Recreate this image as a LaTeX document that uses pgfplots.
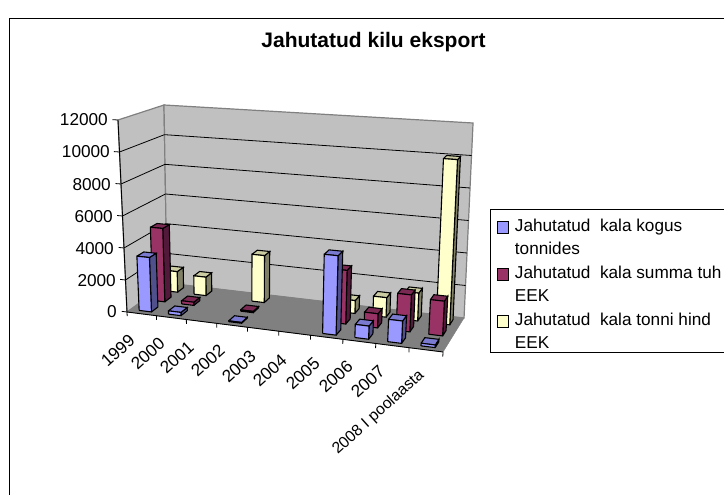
\documentclass[border=0pt]{standalone}
\usepackage{fontspec}
\setmainfont{Liberation Sans}
\usepackage{pgfplots}
\usepackage{pgfplotstable}
\pgfplotsset{compat=1.18}

% values: category, then the three series
\pgfplotstableread{
cat kogus summa hind
0 3400 4700 1350
1 200 200 1200
2 0 0 0
3 50 80 3000
4 0 0 0
5 0 0 0
6 4700 3250 800
7 770 850 1200
8 1300 2200 1700
9 150 2050 10000
}\kiludata

\definecolor{sblue}{HTML}{9999FF}
\definecolor{sblues}{HTML}{50508C}
\definecolor{sbluet}{HTML}{7A7AD0}
\definecolor{spurp}{HTML}{993366}
\definecolor{spurps}{HTML}{52193A}
\definecolor{spurpt}{HTML}{7A2952}
\definecolor{syell}{HTML}{FFFFCC}
\definecolor{syells}{HTML}{808066}
\definecolor{syellt}{HTML}{CCCCA3}
\definecolor{wall}{HTML}{C0C0C0}
\definecolor{floorc}{HTML}{808080}

% u,v,w in 0..1 to picture pixels (Excel's perspective)
\pgfplotsset{
  table/proj/.style={
    row sep=\\,
    x expr={PX(\thisrow{u},\thisrow{v},\thisrow{w})},
    y expr={PY(\thisrow{u},\thisrow{v},\thisrow{w})},
  },
}

\def\pt#1#2#3{#1 #2 #3\noexpand\\}
\newcommand\onebar[6]{%
  \pgfmathsetmacro\ul{(#1+0.29)/10}%
  \pgfmathsetmacro\ur{(#1+0.71)/10}%
  \pgfmathsetmacro\vf{#2-0.08}%
  \pgfmathsetmacro\vb{#2+0.08}%
  \pgfmathsetmacro\wt{#3/12000}%
  \edef\tmp{\noexpand\addplot[fill=#5,draw=black,line width=1.1pt,forget plot] table[proj]{u v w\noexpand\\
    \pt\ur\vf{0}\pt\ur\vb{0}\pt\ur\vb\wt\pt\ur\vf\wt\pt\ur\vf{0}};
    \noexpand\addplot[fill=#6,draw=black,line width=1.1pt,forget plot] table[proj]{u v w\noexpand\\
    \pt\ul\vf\wt\pt\ur\vf\wt\pt\ur\vb\wt\pt\ul\vb\wt\pt\ul\vf\wt};
    \noexpand\addplot[fill=#4,draw=black,line width=1.1pt,forget plot] table[proj]{u v w\noexpand\\
    \pt\ul\vf{0}\pt\ur\vf{0}\pt\ur\vf\wt\pt\ul\vf\wt\pt\ul\vf{0}};}\tmp
}
\newcommand\series[5]{% column, v centre, colours
  \pgfplotsinvokeforeach{0,...,9}{%
    \pgfplotstablegetelem{##1}{#1}\of\kiludata
    \let\val\pgfplotsretval
    \ifdim\val pt>0pt \onebar{##1}{#2}{\val}{#3}{#4}{#5}\fi
  }%
}
\newcommand\yl[3]{\node[anchor=east,inner sep=0pt] at (axis cs:#1,#2) {#3};}
\newcommand\xl[3]{\node[anchor=north east,rotate=42,inner sep=0pt] at (axis cs:#1,#2) {#3};}
% one legend line: strut height, strut depth, text
\newcommand\lrow[3]{\hspace*{4pt}\rule[-#2]{0pt}{\dimexpr#1+#2\relax}#3}

\begin{document}
\begin{tikzpicture}[
  declare function={
    D(\a,\b)=1-0.0757*\a+0.0693*\b;
    PX(\a,\b,\c)=(127+282.5*\a+51.57*\b)/D(\a,\b)
      +\c*(-9*(1-\a)*(1-\b)-3*(1-\a)*\b+12*\a*(1-\b)+9*\a*\b);
    PY(\a,\b,\c)=(312+13.35*\a-9.39*\b)/D(\a,\b)
      -\c*(192*(1-\a)*(1-\b)+178*(1-\a)*\b+210*\a*(1-\b)+195*\a*\b);
  }]
\useasboundingbox (0,0) rectangle (724pt,495pt);
\clip (0,0) rectangle (724pt,495pt);
\begin{axis}[
  at={(0,0)}, anchor=south west,
  scale only axis, width=724pt, height=495pt,
  xmin=0, xmax=724, ymin=0, ymax=495, y dir=reverse,
  axis lines=none, clip=false,
  font=\fontsize{17.2}{21}\selectfont,
  legend style={at={(axis cs:490,209)}, anchor=north west, draw=black, line width=0.9pt,
    fill=white, inner xsep=6pt, inner ysep=0pt, row sep=4pt, font=\fontsize{17.2}{22}\selectfont,
    cells={anchor=base west,inner ysep=0pt,inner xsep=0pt}},
  legend image code/.code={\draw[#1,line width=1pt] (1pt,-2pt) rectangle (12pt,9.5pt);},
]
% frame
\draw[black,line width=0.9pt] (axis cs:9.5,520) -- (axis cs:9.5,18.5) -- (axis cs:740,18.5);

% walls and floor
\addplot[fill=wall,draw=floorc,line width=1.2pt,forget plot] table[proj]{u v w\\ 0 0 0\\ 0 1 0\\ 0 1 1\\ 0 0 1\\ 0 0 0\\};
\addplot[fill=wall,draw=floorc,line width=1.2pt,forget plot] table[proj]{u v w\\ 0 1 0\\ 1 1 0\\ 1 1 1\\ 0 1 1\\ 0 1 0\\};
\addplot[fill=floorc,draw=floorc,forget plot] table[proj]{u v w\\ 0 0 0\\ 1 0 0\\ 1 1 0\\ 0 1 0\\ 0 0 0\\};

% gridlines
\pgfplotsinvokeforeach{1,...,5}{
  \pgfmathsetmacro\gw{#1/6}
  \edef\tmp{\noexpand\addplot[black,line width=0.8pt,forget plot] table[proj]{u v w\noexpand\\
    \pt{0}{0}\gw\pt{0}{1}\gw\pt{1}{1}\gw};}\tmp
}

% value axis and category axis
\addplot[black,line width=0.9pt,forget plot] table[proj]{u v w\\ 0 0 0\\ 0 0 1\\};
\addplot[black,line width=0.9pt,forget plot] table[proj]{u v w\\ 0 0 0\\ 1 0 0\\};
\pgfplotsinvokeforeach{0,...,6}{
  \pgfmathsetmacro\gw{#1/6}
  \edef\tmp{\noexpand\addplot[black,line width=0.8pt,forget plot] table[proj]{u v w\noexpand\\
    \pt{-0.018}{0}\gw\pt{0}{0}\gw};}\tmp
}
\pgfplotsinvokeforeach{0,...,10}{
  \pgfmathsetmacro\gu{#1/10}
  \edef\tmp{\noexpand\addplot[black,line width=0.8pt,forget plot] table[proj]{u v w\noexpand\\
    \pt\gu{0}{-0.022}\pt\gu{0}{0}};}\tmp
}

% bars, back row first
\series{hind}{0.8333}{syell}{syells}{syellt}
\series{summa}{0.5}{spurp}{spurps}{spurpt}
\series{kogus}{0.1667}{sblue}{sblues}{sbluet}

% tick labels
\yl{108}{120}{12000}\yl{110}{152}{10000}\yl{111}{185}{8000}\yl{113}{217}{6000}\yl{114}{249}{4000}\yl{116}{281}{2000}\yl{117}{312}{0}
\xl{128}{333}{1999}\xl{158}{336}{2000}\xl{187}{340}{2001}\xl{218}{343}{2002}\xl{249}{349}{2003}
\xl{280}{353}{2004}\xl{313}{356}{2005}\xl{346}{359}{2006}\xl{378}{364}{2007}
\xl{417}{368}{\fontsize{15.8}{18}\selectfont 2008 I poolaasta}

% title
\node[font=\fontsize{21}{24}\selectfont\bfseries] at (axis cs:373.5,42) {Jahutatud kilu eksport};

% legend: every text line is one row, the second lines have no swatch
\addlegendimage{fill=sblue,draw=black}
\addlegendentry{\lrow{20pt}{4pt}{Jahutatud\ \ kala kogus}}
\addlegendimage{empty legend}
\addlegendentry{\lrow{14pt}{10pt}{tonnides}}
\addlegendimage{fill=spurp,draw=black}
\addlegendentry{\lrow{14pt}{4pt}{Jahutatud\ \ kala summa tuh}}
\addlegendimage{empty legend}
\addlegendentry{\lrow{14pt}{10pt}{EEK}}
\addlegendimage{fill=syell,draw=black}
\addlegendentry{\lrow{14pt}{4pt}{Jahutatud\ \ kala tonni hind}}
\addlegendimage{empty legend}
\addlegendentry{\lrow{14pt}{0pt}{EEK}}
\end{axis}
\end{tikzpicture}
\end{document}
